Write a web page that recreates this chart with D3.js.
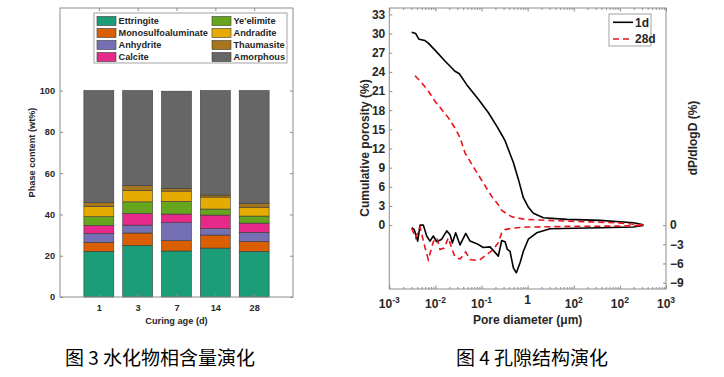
<!DOCTYPE html>
<html><head><meta charset="utf-8">
<script src="https://cdn.jsdelivr.net/npm/d3@7/dist/d3.min.js"></script>
<style>body{margin:0;background:#fff}svg{display:block}</style>
</head><body>
<svg id="c" width="724" height="377"></svg>
<script>
// ---------- data: left chart (phase content, wt%) ----------
const categories = ["1","3","7","14","28"];
const phaseNames = ["Ettringite","Monosulfoaluminate","Anhydrite","Calcite","Ye'elimite","Andradite","Thaumasite","Amorphous"];
const ettringite = [22.1, 25.0, 22.3, 23.7, 22.1];
const monosulfoaluminate = [4.4, 6.0, 5.0, 6.3, 4.8];
const anhydrite = [4.3, 3.8, 8.8, 3.1, 4.4];
const calcite = [3.9, 5.7, 4.1, 6.6, 4.5];
const yeelimite = [4.2, 5.6, 6.1, 2.9, 3.4];
const andradite = [5.0, 5.5, 5.0, 5.8, 4.3];
const thaumasite = [1.9, 2.3, 1.3, 1.0, 1.7];
const amorphous = [54.2, 46.1, 47.1, 50.6, 54.8];
const yTicksLeft = [0, 20, 40, 60, 80, 100];

// ---------- data: right chart (pore structure) ----------
const d1dCum = [0.00306,0.00374,0.00441,0.00594,0.00701,0.0098,0.0161,0.0266,0.033,0.0477,0.0853,0.141,0.214,0.282,0.324,0.49,0.628,0.807,1.04,1.33,2.19,7.05,37.2,196,324];
const v1dCum = [30.2,30.0,29.1,28.9,28.5,27.4,25.7,24.1,23.7,22.0,19.7,17.6,15.5,14.0,13.2,9.8,7.2,4.3,2.8,1.85,1.16,0.9,0.74,0.37,0.05];
const d1dDiff = [0.00306,0.00348,0.00413,0.00464,0.00547,0.00647,0.00764,0.0090,0.01067,0.0137,0.0176,0.0208,0.0233,0.0275,0.0342,0.0454,0.0564,0.0787,0.1094,0.153,0.231,0.274,0.324,0.363,0.415,0.49,0.569,0.684,0.807,1.035,1.57,3.06,37.2,196,324];
const v1dDiff = [-0.4,-0.7,-2.5,0,0,-1.7,-2.5,-1.7,-2.6,-2.2,-0.9,-1.5,-2.8,-1.2,-3.1,-1.3,-2.5,-2.9,-3.5,-3.4,-4.85,-2.4,-2.6,-3.8,-4.1,-6.7,-7.45,-5.9,-4.1,-2.2,-1.2,-0.57,-0.4,-0.3,-0.05];
const d28dCum = [0.0036,0.00505,0.00701,0.0098,0.0137,0.0191,0.0266,0.0342,0.0438,0.0723,0.1094,0.166,0.231,0.274,0.452,0.88,7.05,85.7,324];
const v28dCum = [23.4,22.3,21.0,19.4,18.1,16.8,15.2,13.7,11.3,8.7,6.6,4.5,3.2,2.3,1.3,0.9,0.63,0.37,0.0];
const d28dDiff = [0.00306,0.00374,0.00464,0.00594,0.00701,0.0090,0.0108,0.0126,0.0154,0.0191,0.0226,0.0266,0.0342,0.0454,0.0564,0.0723,0.0927,0.13,0.18,0.231,0.274,0.324,0.49,0.955,7.05,85.7,324];
const v28dDiff = [-0.5,-2.0,-0.3,-3.5,-5.4,-2.6,-2.0,-3.8,-3.6,-2.0,-3.6,-5.0,-5.3,-4.2,-5.4,-5.5,-5.4,-4.6,-3.8,-2.75,-1.2,-0.7,-0.45,-0.3,-0.2,-0.15,-0.05];
const yTicksPorosity = [0,3,6,9,12,15,18,21,24,27,30,33];
const yTicksDiff = [0,-3,-6,-9];
const xTickValues = [1e-3,1e-2,1e-1,1,10,100,1000];
const xTickLabels = ["10^-3","10^-2","10^-1","1","10^2","10^2","10^3"];
const seriesNames = ["1d","28d"];

const captions = ["图 3 水化物相含量演化","图 4 孔隙结构演化"];

// ---------- styles ----------
const phaseColors = ["#1b9e77","#d95f02","#7570b3","#e7298a","#66a61e","#e6ab02","#a6761d","#666666"];
const axisColor = "#8c8c8c";
const textColor = "#262626";
const FONT = "'Liberation Sans', Arial, sans-serif";

const svg = d3.select("#c");

// ================= LEFT CHART =================
const L = {x0:60, x1:293, y0:8, y1:297};
const xL = d3.scalePoint().domain(categories).range([L.x0, L.x1]).padding(1);
const yL = d3.scaleLinear().domain([0,140]).range([L.y1, L.y0]);
const series = [ettringite, monosulfoaluminate, anhydrite, calcite, yeelimite, andradite, thaumasite, amorphous];
const table = categories.map((c,i)=>{ const o={cat:c}; phaseNames.forEach((p,j)=>o[p]=series[j][i]); return o; });
const stacked = d3.stack().keys(phaseNames)(table);
const bw = xL.step()*0.77;

const gL = svg.append("g");
gL.selectAll("g.layer").data(stacked).join("g").attr("class","layer")
  .attr("fill",(d,i)=>phaseColors[i])
  .selectAll("rect").data(d=>d).join("rect")
  .attr("x", d=>xL(d.data.cat)-bw/2)
  .attr("width", bw)
  .attr("y", d=>yL(d[1]))
  .attr("height", d=>yL(d[0])-yL(d[1]))
  .attr("stroke","#3a3a3a").attr("stroke-width",0.6);

function styleAxis(g, fs){
  g.select(".domain").remove();
  g.selectAll(".tick line").attr("stroke", axisColor);
  g.selectAll(".tick text").attr("fill", textColor).attr("font-family", FONT)
    .attr("font-weight","bold").attr("font-size", fs);
}
gL.append("g").attr("transform",`translate(${L.x0},0)`)
  .call(d3.axisLeft(yL).tickValues(yTicksLeft).tickSize(-3).tickPadding(5)).call(g=>styleAxis(g,"9.2px"));
gL.append("g").attr("transform",`translate(${L.x1},0)`)
  .call(d3.axisRight(yL).tickValues(yTicksLeft).tickSize(-3).tickFormat("")).call(g=>styleAxis(g,"9px"));
gL.append("g").attr("transform",`translate(0,${L.y1})`)
  .call(d3.axisBottom(xL).tickSize(-3).tickPadding(7)).call(g=>styleAxis(g,"9.2px"));
gL.append("g").attr("transform",`translate(0,${L.y0})`)
  .call(d3.axisTop(xL).tickSize(-3).tickFormat("")).call(g=>styleAxis(g,"9px"));
gL.append("rect").attr("x",L.x0).attr("y",L.y0).attr("width",L.x1-L.x0).attr("height",L.y1-L.y0)
  .attr("fill","none").attr("stroke",axisColor).attr("stroke-width",1);

gL.append("text").attr("transform",`translate(35,${(L.y0+L.y1)/2}) rotate(-90)`)
  .attr("text-anchor","middle").attr("font-family",FONT).attr("font-weight","bold")
  .attr("font-size","9.2px").attr("fill",textColor).text("Phase content (wt%)");
gL.append("text").attr("x",(L.x0+L.x1)/2).attr("y",324)
  .attr("text-anchor","middle").attr("font-family",FONT).attr("font-weight","bold")
  .attr("font-size","9.2px").attr("fill",textColor).text("Curing age (d)");

// legend
const lg = gL.append("g");
lg.append("rect").attr("x",94).attr("y",13).attr("width",193).attr("height",50)
  .attr("fill","#fff").attr("stroke",axisColor).attr("stroke-width",0.8);
phaseNames.forEach((p,i)=>{
  const col = Math.floor(i/4), row = i%4;
  const sx = col===0 ? 97 : 212;
  const cy = 21 + row*12;
  lg.append("rect").attr("x",sx).attr("y",cy-4.5).attr("width",19).attr("height",9)
    .attr("fill",phaseColors[i]).attr("stroke","#3a3a3a").attr("stroke-width",0.6);
  lg.append("text").attr("x",sx+21.5).attr("y",cy+3.3).attr("font-family",FONT)
    .attr("font-weight","bold").attr("font-size","9.2px").attr("fill",textColor).text(p);
});

// ================= RIGHT CHART =================
const R = {x0:389.3, x1:666, y0:8, y1:289};
const xR = d3.scaleLog().domain([1e-3,1e3]).range([R.x0,R.x1]);
const yR = d3.scaleLinear().domain([-10,34]).range([R.y1,R.y0]);
const gR = svg.append("g");

gR.append("g").attr("transform",`translate(${R.x0},0)`)
  .call(d3.axisLeft(yR).tickValues(yTicksPorosity).tickSize(-3).tickPadding(4)).call(g=>styleAxis(g,"12px"));
gR.append("g").attr("transform",`translate(${R.x1},0)`)
  .call(d3.axisRight(yR).tickValues(yTicksDiff).tickSize(-3).tickPadding(4)).call(g=>styleAxis(g,"12px"));
const minorTicks = [];
for (let e=-3; e<3; e++) for (let k=2; k<10; k++) minorTicks.push(k*Math.pow(10,e));
[R.y1, R.y0].forEach((yy,idx)=>{
  const ax = idx===0 ? d3.axisBottom(xR) : d3.axisTop(xR);
  gR.append("g").attr("transform",`translate(0,${yy})`)
    .call(ax.tickValues(xTickValues).tickSize(-3.5).tickFormat("")).call(g=>styleAxis(g,"12px"));
  const ax2 = idx===0 ? d3.axisBottom(xR) : d3.axisTop(xR);
  gR.append("g").attr("transform",`translate(0,${yy})`)
    .call(ax2.tickValues(minorTicks).tickSize(-2).tickFormat("")).call(g=>styleAxis(g,"12px"));
});
// x tick labels with superscripts
xTickValues.forEach((v,i)=>{
  const parts = xTickLabels[i].split("^");
  const t = gR.append("text").attr("x",xR(v)).attr("y", parts.length>1 ? 308 : 304)
    .attr("text-anchor","middle").attr("font-family",FONT).attr("font-weight","bold")
    .attr("font-size","12px").attr("fill",textColor);
  t.append("tspan").text(parts[0]);
  if (parts.length>1) t.append("tspan").attr("dy","-5").attr("font-size","8.5px").text(parts[1]);
});
gR.append("rect").attr("x",R.x0).attr("y",R.y0).attr("width",R.x1-R.x0).attr("height",R.y1-R.y0)
  .attr("fill","none").attr("stroke",axisColor).attr("stroke-width",1);

const line = d3.line().x(d=>xR(d[0])).y(d=>yR(d[1]));
const zip = (a,b)=>a.map((v,i)=>[v,b[i]]);
const black = "#000", red = "#e8141b";
[[d1dCum,v1dCum],[d1dDiff,v1dDiff]].forEach(([a,b])=>{
  gR.append("path").datum(zip(a,b)).attr("d",line).attr("fill","none")
    .attr("stroke",black).attr("stroke-width",1.6).attr("stroke-linejoin","round");
});
[[d28dCum,v28dCum],[d28dDiff,v28dDiff]].forEach(([a,b])=>{
  gR.append("path").datum(zip(a,b)).attr("d",line).attr("fill","none")
    .attr("stroke",red).attr("stroke-width",1.6).attr("stroke-dasharray","6,4");
});

gR.append("text").attr("transform",`translate(369,148) rotate(-90)`)
  .attr("text-anchor","middle").attr("font-family",FONT).attr("font-weight","bold")
  .attr("font-size","12px").attr("fill",textColor).text("Cumulative porosity (%)");
gR.append("text").attr("transform",`translate(697,138) rotate(-90)`)
  .attr("text-anchor","middle").attr("font-family",FONT).attr("font-weight","bold")
  .attr("font-size","12px").attr("fill",textColor).text("dP/dlogD (%)");
gR.append("text").attr("x",(R.x0+R.x1)/2).attr("y",324)
  .attr("text-anchor","middle").attr("font-family",FONT).attr("font-weight","bold")
  .attr("font-size","12px").attr("fill",textColor).text("Pore diameter (μm)");

// right legend
const lg2 = gR.append("g");
lg2.append("rect").attr("x",609).attr("y",14).attr("width",42).attr("height",32)
  .attr("fill","#fff").attr("stroke",axisColor).attr("stroke-width",0.8);
seriesNames.forEach((s,i)=>{
  const cy = 22.3 + i*16.7;
  lg2.append("line").attr("x1",613).attr("x2",633).attr("y1",cy).attr("y2",cy)
    .attr("stroke", i===0?black:red).attr("stroke-width",1.6)
    .attr("stroke-dasharray", i===0?null:"6,4");
  lg2.append("text").attr("x",635).attr("y",cy+4.2).attr("font-family",FONT)
    .attr("font-weight","bold").attr("font-size","12px").attr("fill",textColor).text(s);
});

// captions
const capFont = "'Noto Sans CJK SC', 'Liberation Serif', serif";
svg.append("text").attr("x",65).attr("y",365).attr("font-family",capFont)
  .attr("font-size","19px").attr("fill","#000").text(captions[0]);
svg.append("text").attr("x",456).attr("y",365).attr("font-family",capFont)
  .attr("font-size","19px").attr("fill","#000").text(captions[1]);
</script>
</body></html>
